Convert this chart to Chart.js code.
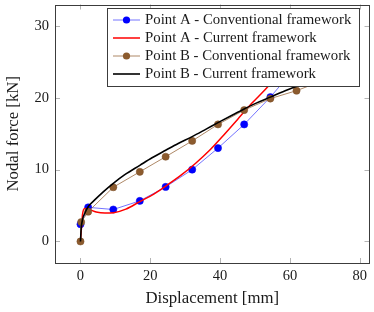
<!DOCTYPE html>
<html>
<head>
<script src="https://cdn.jsdelivr.net/npm/chart.js@4.4.0/dist/chart.umd.min.js"></script>
<style>
body{margin:0;background:#fff;}
</style>
</head>
<body>
<canvas id="myChart" width="374" height="312"></canvas>
<script>

// Point A - conventional framework (markers)
var aConvX=[0,2.2,9.4,17.0,24.4,32.0,39.4,46.9,54.4,61.9,69.4];
var aConvY=[2.4,4.75,4.45,5.65,7.6,10.0,13.0,16.3,20.1,24.4,28.6];

// Point A - current framework (smooth)
var aCurX=[0,0.3,0.6,1.2,2.5,4.5,7,9.5,13,17,21,25,29,33,37,41,45,49,53,57,61,65];
var aCurY=[0,2.0,3.8,4.6,4.45,4.1,3.95,4.0,4.5,5.55,6.6,7.9,9.3,10.9,12.7,14.8,17.0,19.2,21.2,23.4,25.6,27.9];

// Point B - conventional framework (markers)
var bConvX=[0,0.2,2.2,9.4,17.0,24.4,32.0,39.4,46.9,54.4,61.9,69.4];
var bConvY=[0,2.7,4.15,7.55,9.7,11.8,14.0,16.3,18.3,19.9,21.0,22.4];

// Point B - current framework (smooth)
var bCurX=[0,0.2,0.6,1.3,2.3,4,6.6,9.4,12.7,17,20.5,24.4,28,32,36,39.4,43.7,46.9,50.5,54.4,58,62,66,70];
var bCurY=[0,1.8,3.1,4.0,4.9,5.75,6.95,8.1,9.3,10.6,11.65,12.7,13.65,14.6,15.65,16.55,17.65,18.45,19.3,20.1,20.85,21.6,22.3,23.0];

var labels=["Point A - Conventional framework","Point A - Current framework","Point B - Conventional framework","Point B - Current framework"];
var xTicks=[0,20,40,60,80];
var yTicks=[0,10,20,30];

function pts(xs,ys){
  return xs.map(function(v,i){return {x:v,y:ys[i]};});
}

var serif="'Liberation Serif', 'DejaVu Serif', serif";

// inner tick marks, frame and the boxed legend (pgfplots look)
var decor={
  id:"decor",
  beforeDatasetsDraw:function(chart){
    var ctx=chart.ctx, a=chart.chartArea, x=chart.scales.x, y=chart.scales.y;
    ctx.save();
    ctx.strokeStyle="#b4b4b4";
    ctx.lineWidth=1;
    ctx.beginPath();
    xTicks.forEach(function(v){
      var p=Math.round(x.getPixelForValue(v))+0.5;
      ctx.moveTo(p,a.bottom);ctx.lineTo(p,a.bottom-5);
      ctx.moveTo(p,a.top);ctx.lineTo(p,a.top+5);
    });
    yTicks.forEach(function(v){
      var p=Math.round(y.getPixelForValue(v))+0.5;
      ctx.moveTo(a.left,p);ctx.lineTo(a.left+5,p);
      ctx.moveTo(a.right,p);ctx.lineTo(a.right-5,p);
    });
    ctx.stroke();
    ctx.restore();
  },
  afterDatasetsDraw:function(chart){
    var ctx=chart.ctx, a=chart.chartArea;
    ctx.save();
    // frame
    ctx.strokeStyle="#3c3c3c";
    ctx.lineWidth=1;
    ctx.strokeRect(Math.round(a.left)+0.5,Math.round(a.top)+0.5,Math.round(a.right-a.left)-1,Math.round(a.bottom-a.top)-1);
    // legend box
    var lx=107.5, ly=8.5, lw=252, lh=78;
    ctx.fillStyle="#fff";
    ctx.fillRect(lx,ly,lw,lh);
    ctx.strokeRect(lx,ly,lw,lh);
    ctx.font="14.8px "+serif;
    ctx.textBaseline="middle";
    ctx.textAlign="left";
    chart.data.datasets.forEach(function(ds,i){
      var cy=20+i*18;
      ctx.strokeStyle=ds.borderColor;
      ctx.lineWidth=ds.borderWidth;
      ctx.beginPath();
      ctx.moveTo(113,cy);ctx.lineTo(140,cy);
      ctx.stroke();
      if(ds.pointRadius>0){
        ctx.fillStyle=ds.pointBackgroundColor;
        ctx.beginPath();
        ctx.arc(126.5,cy,ds.pointRadius,0,Math.PI*2);
        ctx.fill();
      }
      ctx.fillStyle="#1a1a1a";
      ctx.fillText(ds.label,145,cy+0.5);
    });
    ctx.restore();
  }
};

new Chart("myChart",{
  type:"line",
  data:{
    datasets:[{
      label:labels[0],
      data:pts(aConvX,aConvY),
      borderColor:"rgba(70,70,255,0.75)",
      borderWidth:1,
      pointRadius:3.6,
      pointBackgroundColor:"#0000ff",
      pointBorderColor:"#0000ee",
      pointBorderWidth:0.5,
      tension:0,
      order:4
    },{
      label:labels[1],
      data:pts(aCurX,aCurY),
      borderColor:"#ff0000",
      borderWidth:1.5,
      pointRadius:0,
      cubicInterpolationMode:"monotone",
      order:3
    },{
      label:labels[2],
      data:pts(bConvX,bConvY),
      borderColor:"rgba(160,115,75,0.85)",
      borderWidth:1,
      pointRadius:3.6,
      pointBackgroundColor:"#8c5b2e",
      pointBorderColor:"#7a4f28",
      pointBorderWidth:0.5,
      tension:0,
      order:2
    },{
      label:labels[3],
      data:pts(bCurX,bCurY),
      borderColor:"#000000",
      borderWidth:1.6,
      pointRadius:0,
      cubicInterpolationMode:"monotone",
      order:1
    }]
  },
  options:{
    responsive:false,
    animation:false,
    devicePixelRatio:1,
    layout:{padding:{left:0,right:4,top:0,bottom:0}},
    plugins:{legend:{display:false},tooltip:{enabled:false}},
    scales:{
      x:{
        type:"linear",
        min:-7.3,
        max:82.8,
        afterBuildTicks:function(s){s.ticks=xTicks.map(function(v){return {value:v};});},
        afterFit:function(s){s.height=49;s.paddingLeft=0;s.paddingRight=0;},
        grid:{display:false,drawTicks:false},
        border:{display:false},
        ticks:{padding:4,maxRotation:0,color:"#1a1a1a",font:{family:serif,size:14.5}},
        title:{display:true,text:"Displacement [mm]",color:"#1a1a1a",padding:{top:0,bottom:3},font:{family:serif,size:16.8}}
      },
      y:{
        type:"linear",
        min:-3,
        max:33,
        afterBuildTicks:function(s){s.ticks=yTicks.map(function(v){return {value:v};});},
        afterFit:function(s){s.width=55;s.paddingTop=0;s.paddingBottom=0;},
        grid:{display:false,drawTicks:false},
        border:{display:false},
        ticks:{padding:6,color:"#1a1a1a",font:{family:serif,size:14.5}},
        title:{display:true,text:"Nodal force [kN]",color:"#1a1a1a",padding:{top:4,bottom:0},font:{family:serif,size:16.8}}
      }
    }
  },
  plugins:[decor]
});
</script>
</body>
</html>
